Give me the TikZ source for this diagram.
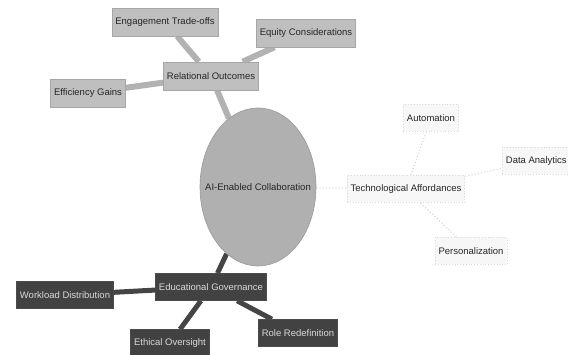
\documentclass[tikz,border=0pt]{standalone}
\usepackage{fontspec}
\setmainfont{Liberation Sans}
\usetikzlibrary{shapes.geometric,backgrounds}
\definecolor{relfill}{gray}{0.75}
\definecolor{reledge}{gray}{0.70}
\definecolor{ellfill}{gray}{0.69}
\definecolor{govfill}{gray}{0.26}
\definecolor{govedge}{gray}{0.27}
\definecolor{techedge}{gray}{0.86}
\tikzset{
  every node/.style={font=\fontsize{9.5}{10}\selectfont},
  relbox/.style={rectangle, fill=relfill, draw=gray!70, line width=0.6pt, inner xsep=3.5pt, minimum height=28pt, text=black!85},
  govbox/.style={rectangle, fill=govfill, draw=black!70, line width=0.6pt, inner xsep=3.5pt, minimum height=27pt, text=white!85!black},
  techbox/.style={rectangle, fill=white!97!black, draw=techedge, dotted, line width=0.8pt, inner xsep=3.5pt, minimum height=27pt, text=black!85},
  reline/.style={draw=reledge, line width=6pt},
  govline/.style={draw=govedge, line width=5pt},
  techline/.style={draw=techedge, line width=1.2pt, dotted},
}
\begin{document}
\begin{tikzpicture}[x=1pt,y=-1pt]
\useasboundingbox (0,0) rectangle (568,355);
\node[ellipse, fill=ellfill, draw=gray!80, line width=0.6pt, minimum width=116pt, minimum height=158pt, inner sep=0pt, text=black!85] (ai) at (258,187) {\makebox[0pt]{AI-Enabled Collaboration}};
\node[relbox] (rel) at (211,76) {Relational Outcomes};
\node[relbox] (eng) at (165,22) {Engagement Trade-offs};
\node[relbox] (equ) at (306,33) {Equity Considerations};
\node[relbox] (eff) at (88,93) {Efficiency Gains};
\node[techbox] (tech) at (406,189) {Technological Affordances};
\node[techbox] (aut) at (431,118) {Automation};
\node[techbox, anchor=west] (dat) at (502,161) {Data Analytics};
\node[techbox] (per) at (471,251) {Personalization};
\node[govbox] (gov) at (211,287) {Educational Governance};
\node[govbox] (wor) at (65,295) {Workload Distribution};
\node[govbox] (eth) at (170,343) {Ethical Oversight};
\node[govbox] (rol) at (298,333) {Role Redefinition};
\begin{scope}[on background layer]
\draw[reline] (ai) -- (rel);
\draw[reline] (rel) -- (eng);
\draw[reline] (rel) -- (equ);
\draw[reline] (rel) -- (eff);
\draw[techline] (ai) -- (tech);
\draw[techline] (tech) -- (aut);
\draw[techline] (tech) -- (dat);
\draw[techline] (tech) -- (per);
\draw[govline] (ai) -- (gov);
\draw[govline] (gov) -- (wor);
\draw[govline] (gov) -- (eth);
\draw[govline] (gov) -- (rol);
\end{scope}
\end{tikzpicture}
\end{document}
